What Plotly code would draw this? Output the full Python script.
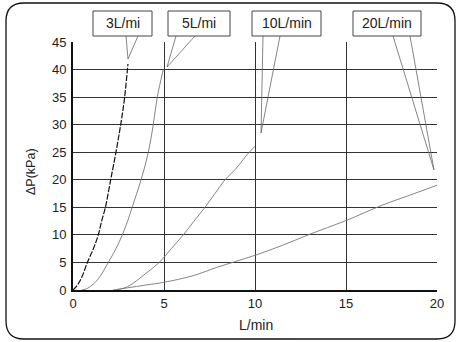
import plotly.graph_objects as go

# ---- data ----
flow_3 = [0, 0.2, 0.48, 0.79, 1.12, 1.39, 1.58, 1.78, 2.07, 2.36, 2.62, 2.82, 2.99, 3.02]
dp_3 = [0, 0.7, 2.3, 5, 7.5, 10, 12.6, 15, 20, 25, 30, 34.5, 40, 41]

flow_5 = [0.48, 0.8, 1.12, 1.45, 1.94, 2.36, 2.71, 3.0, 3.25, 3.74, 4.14, 4.41, 4.63, 4.96]
dp_5 = [0, 0.3, 1.1, 2.3, 5, 7.5, 10, 12.5, 15, 20, 25, 30, 35, 40]

flow_10 = [2.4, 3.0, 3.5, 4.0, 4.74, 5.4, 6.06, 6.65, 7.25, 7.8, 8.35, 8.95, 9.5, 10.0]
dp_10 = [0, 0.6, 1.7, 3.0, 5, 7.5, 10, 12.5, 15, 17.5, 20, 22.0, 24.3, 26.1]

flow_20 = [2.2, 3, 4, 5, 6.6, 7.9, 10, 11.5, 13, 15, 17, 18.5, 20]
dp_20 = [0, 0.4, 0.9, 1.4, 2.6, 4.1, 6.3, 8.1, 10.1, 12.6, 15.4, 17.2, 19.0]

series_labels = ["3L/mi", "5L/mi", "10L/min", "20L/min"]
x_ticks = [0, 5, 10, 15, 20]
y_ticks = [0, 5, 10, 15, 20, 25, 30, 35, 40, 45]
x_title = "L/min"
y_title = "ΔP(kPa)"

# ---- layout geometry (pixels) ----
W, H = 457, 342
L, R, T, B = 73, 20, 42, 52
PW, PH = W - L - R, H - T - B


def px(x):
    return (x - L) / PW


def py(y):
    return (H - B - y) / PH


fig = go.Figure()
styles = [
    dict(color="#111", width=1.2, dash="6px,1.5px"),
    dict(color="#777", width=0.9),
    dict(color="#777", width=0.9),
    dict(color="#777", width=0.9),
]
for (xs, ys), name, st in zip(
    [(flow_3, dp_3), (flow_5, dp_5), (flow_10, dp_10), (flow_20, dp_20)], series_labels, styles
):
    fig.add_trace(go.Scatter(x=xs, y=ys, mode="lines", name=name, line=dict(shape="spline", smoothing=1.0, **st),
                             showlegend=False, hoverinfo="skip"))

shapes = []
annotations = []

# outer rounded frame
x0, y0, x1, y1, r = 6, 3, 455, 339, 18
path = (f"M {px(x0 + r)} {py(y0)} L {px(x1 - r)} {py(y0)} Q {px(x1)} {py(y0)} {px(x1)} {py(y0 + r)} "
        f"L {px(x1)} {py(y1 - r)} Q {px(x1)} {py(y1)} {px(x1 - r)} {py(y1)} "
        f"L {px(x0 + r)} {py(y1)} Q {px(x0)} {py(y1)} {px(x0)} {py(y1 - r)} "
        f"L {px(x0)} {py(y0 + r)} Q {px(x0)} {py(y0)} {px(x0 + r)} {py(y0)} Z")
shapes.append(dict(type="path", xref="paper", yref="paper", path=path, line=dict(color="#111", width=1.3),
                   layer="below"))

# callouts: box (x0,x1), wedge base (bl, br), tip (tx, ty)
callouts = [
    (93, 152, 126, 138, 128, 59),
    (168, 230, 176, 195, 167, 67),
    (252, 321, 263, 280, 261, 133),
    (353, 421, 393, 410, 434, 170),
]
by0, by1 = 11, 36
for (bx0, bx1, bl, br, tx, ty), lab in zip(callouts, series_labels):
    shapes.append(dict(type="path", xref="paper", yref="paper",
                       path=f"M {px(bl)} {py(by1)} L {px(tx)} {py(ty)} L {px(br)} {py(by1)}",
                       line=dict(color="#666", width=0.8)))
    shapes.append(dict(type="rect", xref="paper", yref="paper", x0=px(bx0), x1=px(bx1), y0=py(by0), y1=py(by1),
                       line=dict(color="#444", width=1), fillcolor="white"))
    annotations.append(dict(xref="paper", yref="paper", x=px((bx0 + bx1) / 2), y=py((by0 + by1) / 2),
                            text=lab, showarrow=False, font=dict(size=14, color="#222"),
                            xanchor="center", yanchor="middle"))

annotations.append(dict(xref="paper", yref="paper", x=px(256), y=py(325), text=x_title, showarrow=False,
                        font=dict(size=14, color="#222"), xanchor="center", yanchor="middle"))
annotations.append(dict(xref="paper", yref="paper", x=px(31), y=py(172), text=y_title, showarrow=False,
                        textangle=-90, font=dict(size=12.5, color="#222"), xanchor="center", yanchor="middle"))

fig.update_layout(
    width=W, height=H, margin=dict(l=L, r=R, t=T, b=B),
    paper_bgcolor="white", plot_bgcolor="white",
    font=dict(family="Liberation Sans, Arial, sans-serif", size=12, color="#222"),
    shapes=shapes, annotations=annotations,
    xaxis=dict(range=[0, 20], tickvals=x_ticks, showgrid=True, gridcolor="#333", gridwidth=1,
               zeroline=False, showline=True, linecolor="#111", linewidth=2, ticks="",
               tickfont=dict(size=13, color="#222")),
    yaxis=dict(range=[0, 45], tickvals=y_ticks, showgrid=True, gridcolor="#333", gridwidth=1,
               zeroline=False, showline=True, linecolor="#111", linewidth=2, ticks="",
               tickfont=dict(size=13, color="#222"), ticklabelstandoff=2),
)

fig.write_html("out.html", config={"displayModeBar": False, "staticPlot": True},
               post_script="document.body.style.margin='0';document.body.style.padding='0';"
                           "document.body.style.overflow='hidden';")
